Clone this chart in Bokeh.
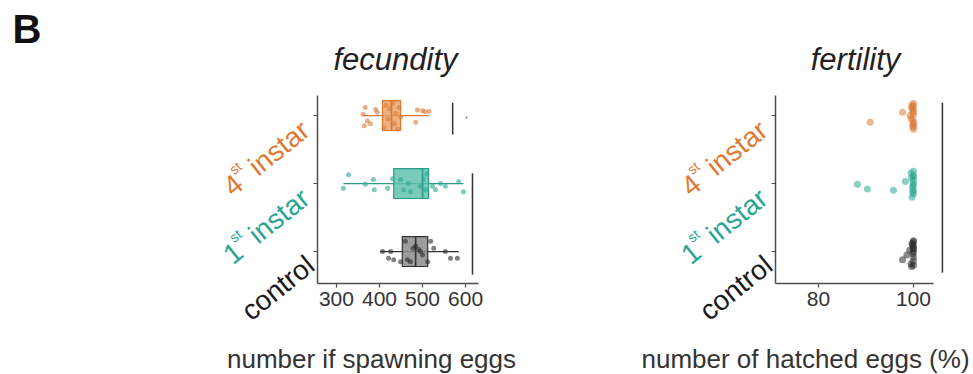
import math

from bokeh.embed import file_html
from bokeh.layouts import row
from bokeh.models import FixedTicker, Label
from bokeh.plotting import figure
from bokeh.resources import INLINE

# ---------------------------------------------------------------- data
groups = ["control", "1st instar", "4th instar"]   # bottom -> top
group_pos = [0, 1, 2]

# fecundity (number of spawned eggs per female)
fec_control = [407, 421, 426, 433, 449, 460, 465, 472, 478, 484, 491, 495,
               500, 512, 519, 526, 553, 565, 581]
fec_control_jit = [0.0, -0.1, 0.0, -0.12, -0.15, 0.15, -0.12, -0.15, 0.05,
                   0.08, 0.03, 0.0, -0.05, -0.15, 0.15, 0.05, 0.0, -0.1, -0.1]
fec_1st = [316, 328, 367, 386, 388, 419, 430, 449, 456, 467, 472, 495, 502,
           507, 510, 523, 530, 542, 553, 584, 595]
fec_1st_jit = [-0.07, 0.13, -0.01, 0.06, -0.09, -0.07, 0.07, 0.06, -0.09, 0.0,
               -0.12, -0.04, 0.06, -0.09, 0.14, -0.04, -0.09, 0.0, -0.04, 0.03,
               -0.12]
fec_4th = [362, 365, 367, 372, 379, 391, 395, 410, 415, 420, 424, 430, 434,
           438, 442, 446, 449, 484, 488, 500, 506, 515]
fec_4th_jit = [0.02, -0.15, 0.12, -0.08, -0.12, 0.09, 0.05, -0.18, 0.15, -0.05,
               0.1, 0.18, -0.12, 0.03, -0.2, 0.12, -0.02, -0.1, 0.08, 0.07,
               0.06, 0.06]

# box summaries, same order as groups
box_q1 = [453, 433, 407]
box_med = [484, 500, 428]
box_q3 = [512, 514, 449]
box_lo = [402, 316, 362]
box_hi = [584, 595, 515]

# fertility (% hatched eggs)
fer_control = [97.7, 98.6, 99.2, 99.5, 99.8, 100, 100, 99.9, 100, 100, 99.7,
               100, 100, 99.6, 100, 99.9, 100]
fer_control_jit = [-0.12, -0.05, 0.02, -0.18, 0.1, 0.14, -0.08, 0.05, -0.2,
                   0.0, 0.12, -0.14, 0.08, -0.22, 0.16, -0.03, 0.04]
fer_1st = [88.2, 90.3, 95.8, 98.3, 99.5, 99.8, 100, 100, 99.9, 100, 99.7, 100,
           100, 99.6, 100, 99.8, 100]
fer_1st_jit = [-0.01, -0.08, -0.1, 0.03, 0.15, -0.05, 0.1, -0.15, 0.0, 0.18,
               -0.2, 0.05, -0.1, 0.08, 0.12, -0.12, -0.02]
fer_4th = [90.9, 97.7, 99.3, 99.6, 99.8, 100, 100, 99.9, 100, 99.7, 100, 100,
           99.8, 100, 99.5, 100, 100, 99.9]
fer_4th_jit = [-0.1, 0.05, 0.0, 0.12, -0.15, 0.18, 0.08, -0.05, -0.2, 0.15,
               0.02, -0.1, 0.1, -0.12, -0.05, 0.14, -0.17, 0.05]

fec_ticks = [300, 400, 500, 600]
fer_ticks = [80, 100]

# ---------------------------------------------------------------- style
FONT = "Liberation Sans"
C_DARK = "#2b2b2b"
C_AXIS = "#4d4d4d"
C_TEAL = "#2ba593"
C_ORANGE = "#dd7a34"
point_colors = [C_DARK, C_TEAL, C_ORANGE]
box_fills = ["#8c8c8c", "#62c3ae", "#eaa36c"]
box_lines = ["#333333", "#2a9b86", "#d9782e"]
label_colors = ["#1a1a1a", C_TEAL, C_ORANGE]

W1, W2, H = 532, 441, 374
TOP, BOTTOM = 95, 283           # axis box top / bottom (canvas px)
F1 = (317, 478)                 # axis box left/right, panel 1
F2 = (775 - W1, 945 - W1)       # axis box left/right, panel 2 (own canvas)
X1 = (256, 630)                 # data span of the axis box, panel 1
X2 = (70.95, 106.75)            # data span of the axis box, panel 2
YR = (-0.47, 2.295)


class Panel:
    """A figure whose plotting frame fills the canvas; axes sit at fixed
    data locations so every label can be placed freely around them."""

    def __init__(self, width, box, xr):
        self.w, self.box, self.xr = width, box, xr
        sx = (box[1] - box[0]) / (xr[1] - xr[0])
        sy = (BOTTOM - TOP) / (YR[1] - YR[0])
        self.sx, self.sy = sx, sy
        x0 = xr[0] - box[0] / sx
        x1 = xr[1] + (width - box[1]) / sx
        y0 = YR[0] - (H - BOTTOM) / sy
        y1 = YR[1] + TOP / sy
        p = figure(width=width, height=H, x_range=(x0, x1), y_range=(y0, y1),
                   output_backend="svg", toolbar_location=None,
                   min_border=0)
        p.outline_line_color = None
        p.xgrid.visible = False
        p.ygrid.visible = False
        p.background_fill_color = "white"
        p.border_fill_color = "white"
        for ax in (p.xaxis[0], p.yaxis[0]):
            ax.axis_line_color = C_AXIS
            ax.axis_line_width = 1.5
            ax.major_tick_line_color = C_AXIS
            ax.major_tick_line_width = 1.2
            ax.major_tick_out = 4
            ax.major_tick_in = 0
            ax.minor_tick_line_color = None
            ax.major_label_text_font = FONT
            ax.major_label_text_color = "#333333"
        p.xaxis.fixed_location = YR[0]
        p.xaxis.bounds = xr
        p.xaxis.major_label_text_font_size = "21px"
        p.xaxis.major_label_standoff = 4
        p.yaxis.fixed_location = xr[0]
        p.yaxis.bounds = YR
        p.yaxis.ticker = FixedTicker(ticks=group_pos)
        p.yaxis.major_label_overrides = {0: "", 1: "", 2: ""}
        p.yaxis.major_label_standoff = 0
        self.p = p

    def data(self, px, py):
        x = self.xr[0] + (px - self.box[0]) / self.sx
        y = YR[0] + (BOTTOM - py) / self.sy
        return x, y

    def text(self, px, py, s, size, color="#222222", align="center",
             baseline="middle", style="normal", angle=0.0):
        x, y = self.data(px, py)
        self.p.add_layout(Label(x=x, y=y, text=s, text_font=FONT,
                                text_font_size=f"{size}px", text_color=color,
                                text_align=align, text_baseline=baseline,
                                text_font_style=style, angle=angle))

    def group_labels(self):
        """rotated category names with superscript ordinals"""
        th = math.radians(39)
        d = (math.cos(th), -math.sin(th))      # along baseline (y down)
        up = (-math.sin(th), -math.cos(th))    # perpendicular, upwards
        big, small = 28, 14
        w_rest = (0.24 + 2.445) * big          # gap + "instar"
        w_sup = 0.72 * small                   # "st"
        raise_px = 12
        for gi, g in enumerate(groups):
            ty = BOTTOM - (group_pos[gi] - YR[0]) * self.sy
            col = label_colors[gi]
            if g == "control":
                ex, ey = self.box[0] - 7, ty + 10
                self.text(ex, ey, "control", big, col, "right", "alphabetic",
                          angle=th)
                continue
            ex, ey = self.box[0] - 12, ty + 11
            num = "1" if g.startswith("1") else "4"
            self.text(ex, ey, "instar", big, col, "right", "alphabetic",
                      angle=th)
            self.text(ex - w_rest * d[0] + raise_px * up[0],
                      ey - w_rest * d[1] + raise_px * up[1],
                      "st", small, col, "right", "alphabetic", angle=th)
            self.text(ex - (w_rest + w_sup) * d[0],
                      ey - (w_rest + w_sup) * d[1],
                      num, big, col, "right", "alphabetic", angle=th)


# ---------------------------------------------------------------- fecundity
P1 = Panel(W1, F1, X1)
p1 = P1.p
p1.xaxis.ticker = FixedTicker(ticks=fec_ticks)

fec_vals = [fec_control, fec_1st, fec_4th]
fec_jit = [fec_control_jit, fec_1st_jit, fec_4th_jit]
BOX_H = 0.44
for gi in range(3):
    y0 = group_pos[gi]
    p1.segment(x0=[box_lo[gi]], y0=[y0], x1=[box_hi[gi]], y1=[y0],
               line_color=box_lines[gi], line_width=1.3)
    p1.hbar(y=[y0], height=BOX_H, left=[box_q1[gi]], right=[box_q3[gi]],
            fill_color=box_fills[gi], fill_alpha=0.85,
            line_color=box_lines[gi], line_width=1.2)
    p1.segment(x0=[box_med[gi]], y0=[y0 - BOX_H / 2], x1=[box_med[gi]],
               y1=[y0 + BOX_H / 2], line_color=box_lines[gi], line_width=1.6)
    ys = [y0 + j for j in fec_jit[gi]]
    p1.scatter(x=fec_vals[gi], y=ys, size=5, fill_color=point_colors[gi],
               line_color=None, fill_alpha=0.6)

# comparison bars on the right
p1.segment(x0=[570, 616], y0=[2.19, 1.15], x1=[570, 616], y1=[1.72, -0.34],
           line_color="#333333", line_width=1.5)
p1.scatter(x=[602], y=[1.97], size=2, fill_color="#777777", line_color=None)

P1.text(12, 28, "B", 40, "#111111", "left", "middle", style="bold")
P1.text(395, 59, "fecundity", 31, "#222222", style="italic")
P1.text(371, 358, "number if spawning eggs", 26, "#333333")
P1.group_labels()

# ---------------------------------------------------------------- fertility
P2 = Panel(W2, F2, X2)
p2 = P2.p
p2.xaxis.ticker = FixedTicker(ticks=fer_ticks)
p2.xaxis.bounds = (70.95, 104.2)

fer_vals = [fer_control, fer_1st, fer_4th]
fer_jit = [fer_control_jit, fer_1st_jit, fer_4th_jit]
for gi in range(3):
    ys = [group_pos[gi] + j for j in fer_jit[gi]]
    p2.scatter(x=fer_vals[gi], y=ys, size=7, fill_color=point_colors[gi],
               line_color=None, fill_alpha=0.55)

p2.segment(x0=[106.1], y0=[2.19], x1=[106.1], y1=[-0.31],
           line_color="#333333", line_width=1.5)

P2.text(855 - W1, 59, "fertility", 31, "#222222", style="italic")
P2.text(805 - W1, 358, "number of hatched eggs (%)", 26, "#333333")
P2.group_labels()

layout = row(p1, p2)
open("out.html", "w").write(file_html(layout, INLINE))
